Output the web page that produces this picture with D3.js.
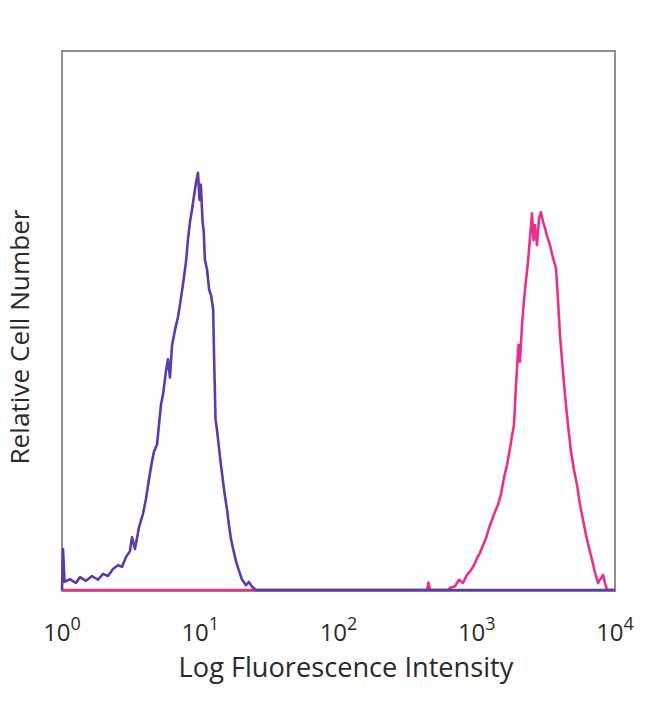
<!DOCTYPE html>
<html>
<head>
<style>
body {margin: 0; background: #fff;}
svg text {font-family: "Open Sans", "Noto Sans", sans-serif; fill: #2a2a2a;}
</style>
<script src="https://d3js.org/d3.v7.min.js"></script>
</head>
<body>
<svg id="vis" width="650" height="704"></svg>
<script>
// tick labels (powers of ten)
var tickExps = [0, 1, 2, 3, 4];

// purple histogram: fluorescence intensity and relative count
var purpleX = [1.00, 1.017, 1.043, 1.14, 1.26, 1.35, 1.49, 1.65, 1.82, 1.98, 2.15, 2.34, 2.54, 2.72, 2.90, 3.10, 3.21, 3.37, 3.61, 3.85,
  4.05, 4.26, 4.48, 4.63, 4.87, 5.03, 5.20, 5.38, 5.65, 5.84, 6.04, 6.25, 6.57, 6.90, 7.14, 7.50, 7.89, 8.15, 8.43, 8.72,
  9.01, 9.32, 9.63, 9.88, 10.1, 10.4, 10.6, 10.8, 11.2, 11.6, 12.0, 12.4, 12.6, 12.9, 13.2, 13.7, 14.1, 14.6, 15.1, 15.6,
  16.1, 16.7, 17.3, 18.1, 19.1, 20.0, 21.4, 22.5, 23.7, 25.3, 10000];
var purpleY = [0, 7.6, 1.5, 2.0, 1.3, 2.4, 1.7, 2.6, 1.9, 3.0, 2.6, 3.9, 4.6, 4.3, 6.1, 7.2, 9.8, 7.6, 11.7, 14.1,
  16.9, 20.6, 23.9, 25.7, 27.0, 30.7, 34.4, 36.3, 40.6, 42.8, 39.4, 45.4, 48.3, 50.6, 53.0, 56.7, 60.9, 65.0, 68.3, 70.6,
  73.1, 75.6, 77.4, 72.4, 75.2, 68.3, 66.5, 61.3, 59.4, 55.7, 54.6, 52.0, 42.8, 31.7, 29.8, 26.1, 23.3, 20.2, 17.4, 15.0,
  12.2, 9.4, 7.6, 5.4, 3.5, 2.0, 0.9, 1.5, 0.6, 0, 0];

// pink histogram
var pinkX = [1, 437, 448, 459, 620, 640, 696, 744, 795, 850, 909, 955, 1004, 1056, 1110, 1167, 1226, 1289, 1355, 1425,
  1498, 1574, 1655, 1740, 1799, 1859, 1922, 1972, 2005, 2055, 2125, 2197, 2271, 2348, 2427, 2509, 2573, 2638, 2728, 2820,
  2915, 3014, 3116, 3221, 3386, 3560, 3743, 3870, 4001, 4136, 4348, 4571, 4806, 5052, 5312, 5584, 5870, 6171, 6488, 6820,
  7170, 7538, 7924, 8193, 8470, 8752, 10000];
var pinkY = [0, 0, 1.4, 0, 0, 0.4, 0.7, 1.9, 1.3, 2.8, 3.7, 4.6, 5.9, 6.9, 8.3, 9.6, 11.5, 13.0, 14.5, 15.8,
  17.8, 20.8, 23.2, 26.3, 28.6, 30.6, 38.0, 42.7, 45.5, 42.3, 49.2, 53.8, 57.5, 60.9, 65.3, 69.9, 64.9, 67.7, 64.0, 69.0,
  70.1, 68.3, 67.2, 65.7, 64.0, 61.6, 59.7, 53.8, 47.3, 42.7, 36.2, 30.6, 25.6, 22.3, 19.5, 15.8, 13.0, 10.2, 7.8, 5.6,
  3.2, 1.3, 2.2, 2.8, 1.3, 0, 0];

var plotL = 62, plotR = 615, plotT = 51, plotB = 590;
var svg = d3.select("#vis");

var x = d3.scaleLog().domain([1, 10000]).range([plotL, plotR]);
var y = d3.scaleLinear().domain([0, 100]).range([plotB, plotT]);

// frame
svg.append("rect")
  .attr("x", plotL).attr("y", plotT)
  .attr("width", plotR - plotL).attr("height", plotB + 1 - plotT)
  .attr("fill", "none").attr("stroke", "#909090").attr("stroke-width", 2);

var line = d3.line()
  .x(function(d) { return x(d[0]); })
  .y(function(d) { return y(d[1]); });

svg.append("path")
  .datum(d3.zip(pinkX, pinkY))
  .attr("d", line)
  .attr("fill", "none").attr("stroke", "#e8308c").attr("stroke-width", 2.6)
  .attr("stroke-linejoin", "round");

svg.append("path")
  .datum(d3.zip(purpleX, purpleY))
  .attr("d", line)
  .attr("fill", "none").attr("stroke", "#5c3aa8").attr("stroke-width", 2.6)
  .attr("stroke-linejoin", "round");

// x tick labels 10^n
var ticks = svg.selectAll("text.tick")
  .data(tickExps)
  .enter().append("text")
    .attr("class", "tick")
    .attr("x", function(d) { return x(Math.pow(10, d)); })
    .attr("y", 641)
    .attr("text-anchor", "middle")
    .style("font-size", "24px");
ticks.append("tspan").text("10");
ticks.append("tspan").attr("dy", -11).style("font-size", "18px").text(function(d) { return d; });

// axis titles
var xt = svg.append("text")
  .attr("x", 346).attr("y", 677)
  .attr("text-anchor", "middle")
  .style("font-size", "22px")
  .text("Log Fluorescence Intensity");
var fs = 22 * 335 / xt.node().getComputedTextLength();
xt.style("font-size", fs + "px");

svg.append("text")
  .attr("transform", "translate(29,337) rotate(-90)")
  .attr("text-anchor", "middle")
  .style("font-size", (fs - 1) + "px")
  .text("Relative Cell Number");
</script>
</body>
</html>
